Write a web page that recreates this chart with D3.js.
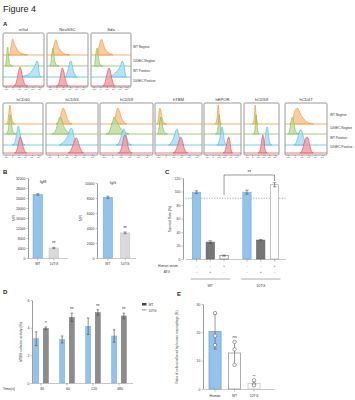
<!DOCTYPE html>
<html><head><meta charset="utf-8">
<script src="https://cdn.jsdelivr.net/npm/d3@7"></script>
<style>body{margin:0;background:#fff}svg{display:block;font-family:"Liberation Sans",Arial,sans-serif}</style>
</head><body><svg id="c" width="355" height="400"></svg>
<script>
// ---------------- DATA ----------------
const markersRow1 = ["αGal","Neu5GC","Sda"];
const markersRow2 = ["hCD40","hCD55","hCD59","hTBM","hEPOR","hCD59","hCD47"];
const sampleLabels = ["WT Negtive","10GEC Negtive","WT Positive","10GEC Positive"];
const flowTickVals = [5,22,39,56,73,90];
const flowTickLabels = ["-10³","0","10³","10⁴","10⁵","10⁶"];
// histogram points [channel(0-100), count %] ; order: αGal, Neu5GC, Sda, hCD40, hCD55, hCD59, hTBM, hEPOR, hCD59, hCD47
const histWTNeg = [
 [[10,0],[15,5],[18,40],[20,60],[22,84],[24,80],[26,60],[30,45],[35,25],[42,12],[50,5],[60,0]],
 [[8,0],[12,10],[15,45],[18,70],[20,80],[22,75],[25,50],[30,30],[36,15],[45,5],[55,0]],
 [[10,0],[15,10],[19,45],[22,70],[25,84],[28,70],[32,45],[37,25],[45,10],[55,0]],
 [[6,0],[10,10],[13,55],[16,100],[18,70],[21,25],[25,5],[30,0]],
 [[18,0],[23,10],[27,40],[30,70],[32,84],[35,75],[39,40],[44,12],[50,0]],
 [[20,0],[25,10],[29,45],[31,70],[33,84],[36,70],[40,35],[45,10],[50,0]],
 [[2,0],[5,15],[7,60],[9,84],[11,70],[14,30],[18,8],[24,0]],
 [[28,0],[32,8],[35,40],[38,100],[40,60],[43,15],[47,0]],
 [[22,0],[26,8],[29,50],[31,100],[33,60],[36,15],[40,0]],
 [[10,0],[15,8],[19,40],[22,70],[25,75],[28,84],[31,78],[35,60],[40,40],[45,25],[52,12],[60,4],[68,0]]
];
const histGECNeg = [
 [[3,0],[6,20],[8,80],[10,100],[12,60],[14,20],[17,5],[22,0]],
 [[5,0],[8,20],[11,75],[13,95],[15,65],[18,25],[22,5],[28,0]],
 [[5,0],[8,15],[11,70],[14,95],[16,70],[19,25],[23,5],[28,0]],
 [[6,0],[10,10],[14,60],[17,100],[19,70],[22,25],[27,5],[32,0]],
 [[10,0],[15,8],[19,30],[22,60],[26,89],[29,80],[33,45],[38,20],[45,5],[52,0]],
 [[10,0],[15,8],[19,30],[23,65],[26,89],[29,75],[34,50],[40,25],[47,8],[55,0]],
 [[3,0],[6,15],[9,65],[11,89],[13,70],[16,30],[20,8],[26,0]],
 [[30,0],[35,10],[38,50],[41,100],[43,60],[46,15],[50,0]],
 [[25,0],[29,10],[32,55],[34,100],[36,60],[39,15],[43,0]],
 [[5,0],[9,15],[12,55],[16,89],[19,70],[23,25],[28,5],[33,0]]
];
const histWTPos = [
 [[40,0],[50,5],[58,10],[65,18],[70,30],[75,45],[78,55],[81,70],[84,84],[86,80],[88,60],[90,20],[92,5],[95,0]],
 [[42,0],[47,10],[51,35],[54,60],[57,84],[60,80],[63,50],[67,20],[71,5],[75,0]],
 [[45,0],[52,8],[58,15],[63,25],[68,35],[72,50],[75,60],[79,84],[82,75],[85,45],[88,10],[91,0]],
 [[22,0],[28,10],[32,40],[35,80],[38,100],[41,75],[45,30],[50,8],[55,0]],
 [[25,0],[30,8],[35,20],[40,40],[44,65],[48,89],[51,80],[54,45],[58,12],[62,0]],
 [[30,0],[35,10],[39,40],[42,70],[45,84],[48,65],[52,25],[56,5],[60,0]],
 [[28,0],[33,8],[38,30],[42,60],[45,80],[47,84],[50,60],[54,20],[58,3],[62,0]],
 [[34,0],[39,10],[43,40],[46,75],[49,95],[52,70],[55,25],[59,5],[63,0]],
 [[52,0],[57,10],[61,40],[64,80],[67,95],[70,70],[73,25],[77,5],[80,0]],
 [[20,0],[25,10],[29,35],[33,65],[37,80],[40,70],[44,40],[49,12],[54,0]]
];
const histGECPos = [
 [[25,0],[30,10],[34,40],[38,80],[41,100],[44,85],[48,45],[52,15],[56,3],[60,0]],
 [[22,0],[27,10],[31,40],[34,75],[37,95],[40,80],[44,40],[48,12],[52,0]],
 [[28,0],[33,10],[37,40],[41,75],[45,95],[48,80],[52,40],[56,12],[60,0]],
 [[28,0],[33,10],[37,40],[40,70],[43,84],[46,70],[50,35],[55,8],[60,0]],
 [[42,0],[47,10],[51,35],[55,65],[58,80],[61,70],[65,35],[69,10],[73,0]],
 [[34,0],[38,10],[42,45],[45,85],[47,95],[50,75],[53,35],[57,8],[61,0]],
 [[38,0],[43,10],[48,40],[52,70],[55,84],[58,70],[62,30],[66,8],[70,0]],
 [[52,0],[57,10],[61,40],[65,75],[68,84],[71,60],[74,20],[78,0]],
 [[40,0],[45,10],[49,45],[52,85],[54,95],[57,70],[60,25],[64,5],[67,0]],
 [[35,0],[40,10],[44,40],[48,70],[52,84],[55,80],[59,45],[63,12],[68,0]]
];
// Panel B
const ibGroups = ["WT","10TG"];
const igmMean = [25400, 4000], igmErr = [300, 250];
const iggMean = [8100, 3350], iggErr = [150, 120];
const igmTicks = [0,4000,8000,12000,16000,20000,24000,28000,32000];
const iggTicks = [0,2000,4000,6000,8000,10000];
const ibSig = ["", "**"];
// Panel C
const survGroups = ["WT","10TG"];
const survConds = ["ctrl","atg","serum"];
const survWT = [99, 25, 5], survWTErr = [2, 2, 0.8];
const survTG = [99, 28, 110], survTGErr = [3, 1, 3];
const serumSigns = ["-","-","+"], atgSigns = ["-","+","-"];
const survTicks = [0,20,40,60,80,100,120];
const survThreshold = 90;
// Panel D
const times = ["30","60","120","480"];
const tbmSeries = ["10TG","WT"];
const tbmTG = [3.2, 3.15, 4.1, 3.4], tbmTGErr = [0.5, 0.25, 0.6, 0.45];
const tbmWT = [3.95, 4.75, 5.1, 4.85], tbmWTErr = [0.1, 0.3, 0.2, 0.2];
const tbmStars = ["*","**","**","**"];
const tbmTicks = [0,2,4,6];
// Panel E
const phagoCats = ["Human","WT","10TG"];
const phagoMean = [20.3, 12.7, 2.0];
const phagoSD = [6.2, 4.1, 0.8];
const phagoPts = [[26.8,18.8,15.5],[16.6,14,8.5],[3.1,1.7,1.3]];
const phagoSig = ["", "ns", "**"];
const phagoTicks = [0,10,20,30];

// ---------------- DRAW ----------------
const svg = d3.select("#c");
const TXT = "#222";
svg.append("text").attr("x",3).attr("y",12).attr("font-size",9).attr("fill",TXT).text("Figure 4");
[["A",3,26],["B",3,174],["C",165,174],["D",3,294],["E",177,296]].forEach(([t,x,y])=>
  svg.append("text").attr("x",x).attr("y",y).attr("font-size",6).attr("font-weight","bold").attr("fill",TXT).text(t));

const laneStyle = [
  {stroke:"#f0902c", fill:"#f7c08a"},
  {stroke:"#7cb842", fill:"#b9dc9c"},
  {stroke:"#3db8e8", fill:"#a6dcf4"},
  {stroke:"#e5404b", fill:"#f09a9f"}
];
const lanes = [histWTNeg, histGECNeg, histWTPos, histGECPos];
const hScale = d3.scaleLinear([0,100],[0,19]);

function flowBox(idx, title, x0, x1, y0, y1, bases){
  const xs = d3.scaleLinear([0,100],[x0+0.8, x1-0.8]);
  const g = svg.append("g");
  bases.forEach((b,li)=>{
    const st = laneStyle[li];
    const area = d3.area().x(d=>xs(d[0])).y0(b).y1(d=>b-hScale(d[1])).curve(d3.curveMonotoneX);
    g.append("line").attr("x1",x0).attr("x2",x1).attr("y1",b).attr("y2",b).attr("stroke",st.stroke).attr("stroke-width",0.7);
    g.append("path").attr("d",area(lanes[li][idx])).attr("fill",st.fill).attr("fill-opacity",0.8)
      .attr("stroke",st.stroke).attr("stroke-width",0.6);
  });
  g.append("rect").attr("x",x0).attr("y",y0).attr("width",x1-x0).attr("height",y1-y0)
    .attr("fill","none").attr("stroke","#9a9a9a").attr("stroke-width",1).attr("rx",1);
  svg.append("text").attr("x",(x0+x1)/2).attr("y",y0-2).attr("text-anchor","middle").attr("font-size",4.2).attr("fill","#333").text(title);
  const ax = svg.append("g").attr("transform",`translate(0,${y1})`)
    .call(d3.axisBottom(xs).tickValues(flowTickVals).tickFormat((d,i)=>flowTickLabels[i]).tickSize(1.2).tickPadding(0.5).tickSizeOuter(0));
  ax.select(".domain").remove();
  ax.selectAll(".tick line").attr("stroke","#333").attr("stroke-width",0.4);
  ax.selectAll("text").attr("font-size",2.4).attr("fill","#444");
}
const row1Boxes = [[3,44],[47,88],[91,131]];
const row1Bases = [55,66,77,86];
row1Boxes.forEach((b,i)=>flowBox(i, markersRow1[i], b[0], b[1], 33, 87, row1Bases));
const row2Boxes = [[3,43],[46,98],[100,153],[155,202],[204,241],[244,279],[285,327]];
const row2Bases = [124,134,145,153];
row2Boxes.forEach((b,i)=>flowBox(i+3, markersRow2[i], b[0], b[1], 103, 155, row2Bases));
const legOff = [-7,-4,-5,-4];
sampleLabels.forEach((t,i)=>{
  svg.append("text").attr("x",133).attr("y",row1Bases[i]+legOff[i]).attr("font-size",3.2).attr("fill","#333").text(t);
  svg.append("text").attr("x",330).attr("y",row2Bases[i]+legOff[i]-1).attr("font-size",3.2).attr("fill","#333").text(t);
});

// axis helpers
function yAxis(scale, x, ticks, fmt){
  const g = svg.append("g").attr("transform",`translate(${x},0)`)
    .call(d3.axisLeft(scale).tickValues(ticks).tickFormat(fmt||d3.format("d")).tickSize(1.5).tickPadding(1.2).tickSizeOuter(0));
  g.select(".domain").attr("stroke","#9a9a9a").attr("stroke-width",1);
  g.selectAll(".tick line").attr("stroke","#9a9a9a").attr("stroke-width",0.6);
  g.selectAll("text").attr("font-size",3.4).attr("fill","#333");
  return g;
}
function xLine(x0,x1,y){
  svg.append("line").attr("x1",x0).attr("x2",x1).attr("y1",y).attr("y2",y).attr("stroke","#c8c8c8").attr("stroke-width",1.2);
}
function errBar(cx, yTop, yBot, w, col){
  const g = svg.append("g").attr("stroke",col||"#555").attr("stroke-width",0.6);
  g.append("line").attr("x1",cx).attr("x2",cx).attr("y1",yTop).attr("y2",yBot);
  g.append("line").attr("x1",cx-w/2).attr("x2",cx+w/2).attr("y1",yTop).attr("y2",yTop);
  g.append("line").attr("x1",cx-w/2).attr("x2",cx+w/2).attr("y1",yBot).attr("y2",yBot);
}
function rotLabel(x,y,t,fs){
  svg.append("text").attr("transform",`translate(${x},${y}) rotate(-90)`).attr("text-anchor","middle").attr("font-size",fs||3.4).attr("fill","#333").text(t);
}
const BLUE = "#93c3ea", BLUE_S = "#6fa9dc";

// Panel B
function ibChart(title, mean, err, ticks, maxV, axX, xEnd, tX){
  const y = d3.scaleLinear([0,maxV],[258, 258-80*(maxV/32000)*(32000/maxV)]);
  return y;
}
// IgM
{
  const y = d3.scaleLinear([0,32000],[258,178]);
  const x = d3.scaleBand(ibGroups,[28.2,63.4]).paddingInner(0.4).paddingOuter(0.3);
  xLine(28,68,258.5);
  yAxis(y, 28, igmTicks);
  ibGroups.forEach((gname,i)=>{
    const bx = x(gname), bw = x.bandwidth();
    svg.append("rect").attr("x",bx).attr("y",y(igmMean[i])).attr("width",bw).attr("height",y(0)-y(igmMean[i]))
      .attr("fill", i===0?BLUE:"#dadada").attr("stroke", i===0?BLUE_S:"#c4c4c4").attr("stroke-width",0.5);
    errBar(bx+bw/2, y(igmMean[i]+igmErr[i]), y(igmMean[i]-igmErr[i]), 3);
    svg.append("line").attr("x1",bx+bw/2).attr("x2",bx+bw/2).attr("y1",258.5).attr("y2",260.5).attr("stroke","#777").attr("stroke-width",0.5);
    svg.append("text").attr("x",bx+bw/2).attr("y",265).attr("text-anchor","middle").attr("font-size",3.4).attr("fill","#333").text(gname);
    if(ibSig[i]) svg.append("text").attr("x",bx+bw/2).attr("y",y(igmMean[i]+igmErr[i])-2).attr("text-anchor","middle").attr("font-size",4.5).attr("fill","#333").text(ibSig[i]);
  });
  svg.append("text").attr("x",43).attr("y",183).attr("text-anchor","middle").attr("font-size",4).attr("fill","#333").text("IgM");
  rotLabel(15,218,"MFI");
}
// IgG
{
  const y = d3.scaleLinear([0,10000],[258,183]);
  const x = d3.scaleBand(ibGroups,[98,135]).paddingInner(0.45).paddingOuter(0.3);
  xLine(97,136,258.5);
  yAxis(y, 97, iggTicks);
  ibGroups.forEach((gname,i)=>{
    const bx = x(gname), bw = x.bandwidth();
    svg.append("rect").attr("x",bx).attr("y",y(iggMean[i])).attr("width",bw).attr("height",y(0)-y(iggMean[i]))
      .attr("fill", i===0?BLUE:"#dadada").attr("stroke", i===0?BLUE_S:"#c4c4c4").attr("stroke-width",0.5);
    errBar(bx+bw/2, y(iggMean[i]+iggErr[i]), y(iggMean[i]-iggErr[i]), 3);
    svg.append("line").attr("x1",bx+bw/2).attr("x2",bx+bw/2).attr("y1",258.5).attr("y2",260.5).attr("stroke","#777").attr("stroke-width",0.5);
    svg.append("text").attr("x",bx+bw/2).attr("y",265).attr("text-anchor","middle").attr("font-size",3.4).attr("fill","#333").text(gname);
    if(ibSig[i]) svg.append("text").attr("x",bx+bw/2).attr("y",y(iggMean[i]+iggErr[i])-2).attr("text-anchor","middle").attr("font-size",4.5).attr("fill","#333").text(ibSig[i]);
  });
  svg.append("text").attr("x",113).attr("y",184).attr("text-anchor","middle").attr("font-size",4).attr("fill","#333").text("IgG");
  rotLabel(82,218,"MFI");
}

// Panel C
{
  const y = d3.scaleLinear([0,120],[259,178]);
  const xo = d3.scaleBand(survGroups,[184.5,286.5]).paddingInner(0.18).paddingOuter(0.1);
  const xi = d3.scaleBand(survConds,[0,xo.bandwidth()]).paddingInner(0.4).paddingOuter(0.2);
  xLine(186,286,259.5);
  yAxis(y, 183, survTicks);
  svg.append("line").attr("x1",183).attr("x2",286).attr("y1",y(survThreshold)).attr("y2",y(survThreshold))
    .attr("stroke","#8a8a8a").attr("stroke-width",0.7).attr("stroke-dasharray","1.2,1.4");
  const fills = [BLUE,"#767676","#ffffff"], strokes = [BLUE_S,"#5a5a5a","#666"];
  const centers = {};
  survGroups.forEach((gname,gi)=>{
    const vals = gi===0?survWT:survTG, errs = gi===0?survWTErr:survTGErr;
    survConds.forEach((c,ci)=>{
      const bx = xo(gname)+xi(c), bw = xi.bandwidth(), cx = bx+bw/2;
      centers[gname+c] = cx;
      svg.append("rect").attr("x",bx).attr("y",y(vals[ci])).attr("width",bw).attr("height",y(0)-y(vals[ci]))
        .attr("fill",fills[ci]).attr("stroke", (gi===1&&ci===2)?"#9a9a9a":strokes[ci]).attr("stroke-width",0.6);
      errBar(cx, y(vals[ci]+errs[ci]), y(vals[ci]-errs[ci]), 3.5);
      svg.append("line").attr("x1",cx).attr("x2",cx).attr("y1",259.5).attr("y2",261.5).attr("stroke","#777").attr("stroke-width",0.5);
      svg.append("text").attr("x",cx).attr("y",267).attr("text-anchor","middle").attr("font-size",3.4).attr("fill","#333").text(serumSigns[ci]);
      svg.append("text").attr("x",cx).attr("y",273).attr("text-anchor","middle").attr("font-size",3.4).attr("fill","#333").text(atgSigns[ci]);
    });
    const gx0 = xo(gname)+1, gx1 = xo(gname)+xo.bandwidth()-1;
    svg.append("line").attr("x1",gx0).attr("x2",gx1).attr("y1",279).attr("y2",279).attr("stroke","#777").attr("stroke-width",0.6);
    svg.append("text").attr("x",(gx0+gx1)/2).attr("y",287).attr("text-anchor","middle").attr("font-size",3.6).attr("fill","#333").text(gname);
  });
  svg.append("text").attr("x",178).attr("y",267).attr("text-anchor","end").attr("font-size",3.2).attr("fill","#333").text("Human serum");
  svg.append("text").attr("x",170).attr("y",273).attr("text-anchor","end").attr("font-size",3.2).attr("fill","#333").text("ATG");
  // bracket
  const lx = centers["WTserum"], rx = centers["10TGserum"], top = 175;
  svg.append("path").attr("d",`M${lx},195V${top}H${rx}V181`).attr("fill","none").attr("stroke","#555").attr("stroke-width",0.6);
  svg.append("text").attr("x",(lx+rx)/2).attr("y",top-1.5).attr("text-anchor","middle").attr("font-size",4.5).attr("fill","#333").text("**");
  rotLabel(171,219,"Survival Rate (%)");
}

// Panel D
{
  const y = d3.scaleLinear([0,6],[383,300]);
  const xo = d3.scaleBand(times,[28,132]).paddingInner(0.2).paddingOuter(0.1);
  const xi = d3.scaleBand(tbmSeries,[0,xo.bandwidth()]).paddingInner(0.45).paddingOuter(0.3);
  xLine(32,133,383.5);
  yAxis(y, 32, tbmTicks);
  const cols = {"10TG":[BLUE,BLUE_S],"WT":["#8c8c8c","#777"]};
  times.forEach((t,i)=>{
    [[ "10TG", tbmTG[i], tbmTGErr[i]], ["WT", tbmWT[i], tbmWTErr[i]]].forEach(([s,v,e])=>{
      const bx = xo(t)+xi(s), bw = xi.bandwidth();
      svg.append("rect").attr("x",bx).attr("y",y(v)).attr("width",bw).attr("height",y(0)-y(v))
        .attr("fill",cols[s][0]).attr("stroke",cols[s][1]).attr("stroke-width",0.4);
      errBar(bx+bw/2, y(v+e), y(v-e), 2.5, "#444");
      if(s==="WT") svg.append("text").attr("x",bx+bw/2).attr("y",y(v+e)-2).attr("text-anchor","middle").attr("font-size",4.5).attr("fill","#333").text(tbmStars[i]);
    });
    const cx = xo(t)+xo.bandwidth()/2;
    svg.append("line").attr("x1",cx).attr("x2",cx).attr("y1",383.5).attr("y2",385.5).attr("stroke","#777").attr("stroke-width",0.5);
    svg.append("text").attr("x",cx+1).attr("y",390).attr("text-anchor","middle").attr("font-size",3.6).attr("fill","#333").text(t);
  });
  svg.append("text").attr("x",3).attr("y",390).attr("font-size",3.6).attr("fill","#333").text("Time(s)");
  rotLabel(22,342,"hTBM cofactor activity (%)");
  // legend
  [["WT","#444"],["10TG",BLUE]].forEach(([t,c],i)=>{
    svg.append("rect").attr("x",142).attr("y",303+i*6).attr("width",4.5).attr("height",i===0?2.5:1.6).attr("fill",c);
    svg.append("text").attr("x",148.5).attr("y",305.5+i*6).attr("font-size",3.2).attr("fill","#333").text(t);
  });
}

// Panel E
{
  const y = d3.scaleLinear([0,30],[389,304]);
  const x = d3.scaleBand(phagoCats,[205.1,264]).paddingInner(0.38).paddingOuter(0.2);
  xLine(204,275,389.5);
  yAxis(y, 203, phagoTicks);
  const fills = [BLUE,"#fff","#fff"], strokes = [BLUE_S,"#9a9a9a","#c8c8c8"];
  phagoCats.forEach((c,i)=>{
    const bx = x(c), bw = x.bandwidth(), cx = bx+bw/2;
    svg.append("rect").attr("x",bx).attr("y",y(phagoMean[i])).attr("width",bw).attr("height",y(0)-y(phagoMean[i]))
      .attr("fill",fills[i]).attr("stroke",strokes[i]).attr("stroke-width",0.8);
    errBar(cx, y(phagoMean[i]+phagoSD[i]), y(phagoMean[i]-phagoSD[i]), 3.5, "#555");
    phagoPts[i].forEach(v=>{
      svg.append("circle").attr("cx",cx).attr("cy",y(v)).attr("r",1.7).attr("fill","#fff").attr("stroke","#666").attr("stroke-width",0.6);
    });
    svg.append("line").attr("x1",cx).attr("x2",cx).attr("y1",389.5).attr("y2",391.5).attr("stroke","#777").attr("stroke-width",0.5);
    svg.append("text").attr("x",cx).attr("y",397).attr("text-anchor","middle").attr("font-size",3.4).attr("fill","#333").text(c);
    if(phagoSig[i]) svg.append("text").attr("x",cx).attr("y",y(phagoMean[i]+phagoSD[i])-3).attr("text-anchor","middle").attr("font-size",4).attr("fill","#333").text(phagoSig[i]);
  });
  rotLabel(178,347,"Ratio of cells swallowed by human macrophage (%)",3.2);
}
</script></body></html>
